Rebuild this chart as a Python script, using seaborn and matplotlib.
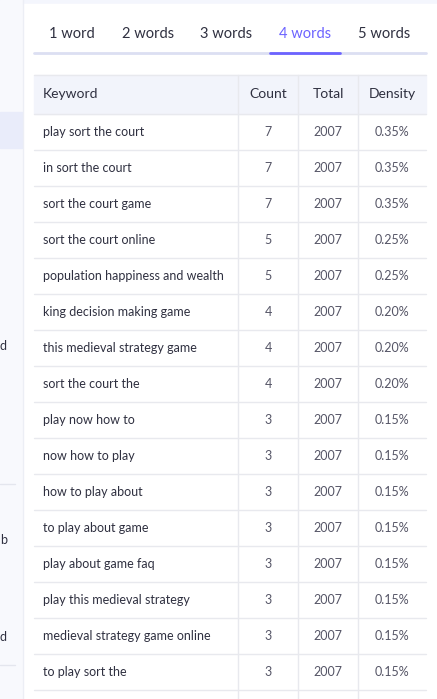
import matplotlib
matplotlib.use("Agg")
import matplotlib.pyplot as plt
import seaborn as sns
from matplotlib.patches import Rectangle

tabs = ["1 word", "2 words", "3 words", "4 words", "5 words"]
tab_x = [72, 148, 226, 305, 384]
active_tab = 3

columns = ["Keyword", "Count", "Total", "Density"]
keywords = ["play sort the court", "in sort the court", "sort the court game",
            "sort the court online", "population happiness and wealth",
            "king decision making game", "this medieval strategy game",
            "sort the court the", "play now how to", "now how to play",
            "how to play about", "to play about game", "play about game faq",
            "play this medieval strategy", "medieval strategy game online",
            "to play sort the"]
counts = [7, 7, 7, 5, 5, 4, 4, 4, 3, 3, 3, 3, 3, 3, 3, 3]
totals = [2007] * 16
density = ["0.35%", "0.35%", "0.35%", "0.25%", "0.25%", "0.20%", "0.20%", "0.20%",
           "0.15%", "0.15%", "0.15%", "0.15%", "0.15%", "0.15%", "0.15%", "0.15%"]

sns.set_style("white")
plt.rcParams['font.family'] = ['Lato', 'DejaVu Sans']

W, H = 437, 699
fig = plt.figure(figsize=(W / 100, H / 100), dpi=100)
ax = fig.add_axes([0, 0, 1, 1])
ax.set_xlim(0, W)
ax.set_ylim(H, 0)
ax.axis("off")

text_c = "#2f3040"
line_c = "#e8e9ee"

# page background / sidebar
ax.add_patch(Rectangle((0, 0), W, H, color="#f4f6fd", zorder=0))
ax.add_patch(Rectangle((0, 0), 22, H, color="#f8f9fd", zorder=0))
ax.add_patch(Rectangle((23, 4), W - 23, H, color="white", zorder=0))
ax.plot([22.5, 22.5], [0, H], color="#eceef5", lw=1)
ax.add_patch(Rectangle((0, 112), 22, 36, color="#e9ecfa", zorder=1))
for y, ch in [(346, "d"), (540, "b"), (637, "d")]:
    ax.text(0, y, ch, fontsize=9, color=text_c, va="center")
for y in [484, 665]:
    ax.plot([0, 15], [y, y], color="#e4e6ee", lw=1)

# tabs
ax.plot([34, 426], [52.5, 52.5], color="#dcdff2", lw=2)
for i, (t, x) in enumerate(zip(tabs, tab_x)):
    c = "#6c63ff" if i == active_tab else text_c
    ax.text(x, 34, t, fontsize=10.5, color=c, ha="center", va="center")
ax.plot([270, 340], [52.5, 52.5], color="#6c63ff", lw=2)

# table
col_edges = [34, 238, 298, 358, 426]
top, head_h, row_h = 75, 39, 36
ax.add_patch(Rectangle((34, top), 392, head_h, color="#f2f4fb", zorder=1))
n_rows = len(keywords)
bottom = top + head_h + row_h * (n_rows + 1)
ax.plot([34, 426], [top, top], color=line_c, lw=1, zorder=2)
for x in col_edges[1:-1]:
    ax.plot([x, x], [top, bottom], color=line_c, lw=1, zorder=2)
hy = top + head_h / 2
ax.text(43, hy, columns[0], fontsize=10, color=text_c, va="center", zorder=3)
for j in range(1, 4):
    ax.text((col_edges[j] + col_edges[j + 1]) / 2, hy, columns[j], fontsize=10,
            color=text_c, ha="center", va="center", zorder=3)

for i in range(n_rows + 1):
    y0 = top + head_h + i * row_h
    ax.plot([34, 426], [y0, y0], color=line_c, lw=1, zorder=2)
    if i == n_rows:
        break
    yc = y0 + row_h / 2
    ax.text(43, yc, keywords[i], fontsize=9, color=text_c, va="center")
    vals = [counts[i], totals[i], density[i]]
    for j, v in enumerate(vals, start=1):
        ax.text((col_edges[j] + col_edges[j + 1]) / 2, yc, str(v), fontsize=9,
                color="#555566", ha="center", va="center")

fig.savefig("out.png", dpi=100)
